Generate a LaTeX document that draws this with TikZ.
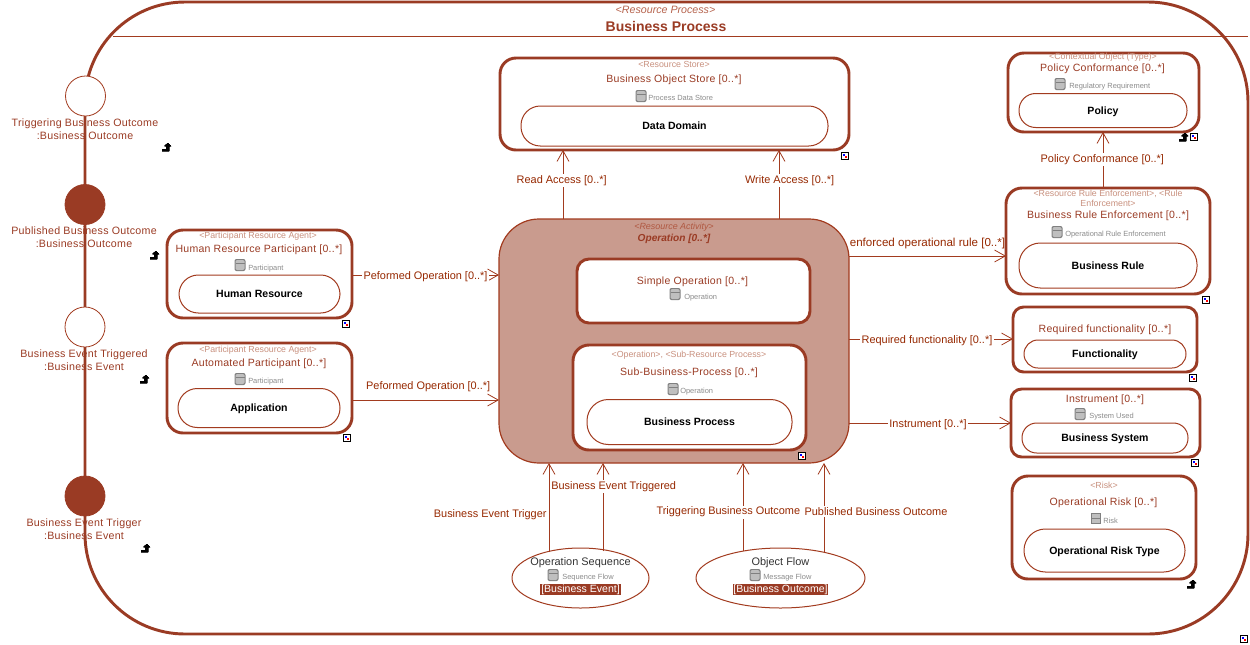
\documentclass[tikz,border=0pt]{standalone}
\usepackage{fontspec}
\setmainfont{Liberation Sans}
\newfontfamily\spaced[LetterSpace=2.5]{Liberation Sans}
\usetikzlibrary{arrows.meta,shapes.geometric,positioning,calc}
\definecolor{rust}{HTML}{9A3B24}
\definecolor{wire}{HTML}{A23B1F}
\definecolor{wtext}{HTML}{962800}
\definecolor{pale}{HTML}{C9917F}
\definecolor{opfill}{HTML}{C99B8E}
\definecolor{smallgrey}{HTML}{8C8C8C}
\tikzstyle{frame} = [rectangle, draw=rust, line width=2.2pt, inner sep=0pt, outer sep=0pt]
\tikzstyle{outerbox} = [frame, rounded corners=75pt, minimum width=872.25pt, minimum height=474pt]
\tikzstyle{element} = [frame, rounded corners=12pt, fill=white]
\tikzstyle{activity} = [rectangle, draw=wire, line width=0.9pt, inner sep=0pt, outer sep=0pt, rounded corners=30pt, fill=opfill]
\tikzstyle{inner} = [rectangle, draw=wire, line width=0.75pt, inner sep=0pt, outer sep=0pt, rounded corners=14.5pt, fill=white, font=\fontsize{7.9pt}{9pt}\selectfont\bfseries, text=black, text height=5.7pt, text depth=0pt]
\tikzstyle{port} = [circle, draw=wire, line width=0.6pt, inner sep=0pt, outer sep=0pt, minimum size=30pt, fill=white]
\tikzstyle{portfull} = [port, draw=rust, fill=rust]
\tikzstyle{portname} = [text=rust, align=center, font=\spaced\fontsize{8pt}{9.7pt}\selectfont, inner sep=0pt, yshift=-0.3pt]
\tikzstyle{stereo} = [text=pale, align=center, font=\fontsize{6.6pt}{8pt}\selectfont, inner sep=0pt, yshift=-0.6pt]
\tikzstyle{title} = [text=rust, font=\spaced\fontsize{7.9pt}{9pt}\selectfont, inner sep=0pt, yshift=-1.2pt]
\tikzstyle{kind} = [text=smallgrey, anchor=west, font=\fontsize{5.6pt}{7pt}\selectfont, inner sep=0pt, yshift=-0.8pt]
\tikzstyle{flowname} = [text=black!80, font=\fontsize{8.2pt}{9pt}\selectfont, inner sep=0pt, yshift=-1pt]
\tikzstyle{flowtype} = [text=white, fill=rust, font=\fontsize{7.9pt}{9pt}\selectfont, inner sep=0.6pt]
\tikzstyle{flow} = [ellipse, draw=wire, line width=0.75pt, inner sep=0pt, outer sep=0pt, fill=white]
\tikzstyle{arrow} = [draw=wire, line width=0.75pt, -{Straight Barb[length=8pt,width=9pt,line width=0.6pt]}]
\tikzstyle{wlabel} = [text=wtext, font=\fontsize{8.2pt}{9pt}\selectfont, inner sep=1pt, yshift=-1.2pt]
\tikzstyle{wcover} = [wlabel, fill=white]
\newcommand{\dbicon}[2]{
  \fill[black!50, rounded corners=1.5pt] (#1-5.5,#2-6) rectangle (#1+5.5,#2+6);
  \fill[black!25, rounded corners=1pt] (#1-4.5,#2-5) rectangle (#1+4.5,#2+5);
  \draw[black!50, line width=0.5pt] (#1-4.5,#2-1.5) -- (#1+4.5,#2-1.5);
}
\newcommand{\lnkicon}[2]{
  \fill[black] (#1-4,#2+2) -- (#1+0.5,#2+2) -- (#1+0.5,#2-1) -- (#1-1.5,#2-1) -- (#1+2,#2-4) -- (#1+5,#2-1) -- (#1+3,#2-1) -- (#1+3,#2+4) -- (#1-4,#2+4) -- cycle;
}
\newcommand{\cornericon}[2]{
  \draw[black, fill=white, line width=0.75pt] (#1-3.5,#2-3.5) rectangle (#1+3.5,#2+3.5);
  \fill[blue] (#1-2,#2-2) rectangle (#1,#2);
  \fill[red] (#1,#2) rectangle (#1+2,#2+2);
}
\begin{document}
\begin{tikzpicture}[x=0.75pt,y=-0.75pt]
\useasboundingbox (0,0) rectangle (1250,644);
% outer process
\node (process) [outerbox] at (666.5,318) {};
\node (processtype) [stereo, text=wire!80!white, font=\fontsize{8pt}{9pt}\selectfont\itshape] at (665.5,9) {<Resource Process>};
\node (processname) [title, font=\fontsize{10.5pt}{12pt}\selectfont\bfseries] at (666,24.5) {Business Process};
\coordinate (ruleleft) at (113,36.5);
\draw [wire, line width=0.75pt] (ruleleft) -- (ruleleft -| process.east);
% ports on the left edge
\node (port1) [port] at (85.5,96) {};
\node (port2) [portfull] at (85,204.5) {};
\node (port3) [port] at (85,327) {};
\node (port4) [portfull] at (85,496) {};
\node (port1name) [portname] at (85,128.5) {Triggering Business Outcome\\:Business Outcome};
\node (port2name) [portname] at (84,236.5) {Published Business Outcome\\:Business Outcome};
\node (port3name) [portname] at (84,359.5) {Business Event Triggered\\:Business Event};
\node (port4name) [portname] at (84,528.5) {Business Event Trigger\\:Business Event};
% left agents
\node (human) [element, minimum width=138.75pt, minimum height=66pt] at (259.5,274) {};
\node (humanres) [inner, minimum width=120.75pt, minimum height=28.5pt] at (259.5,294) {Human Resource};
\node (humantype) [stereo] at (258,235) {<Participant Resource Agent>};
\node (humanname) [title] at (259,248) {Human Resource Participant [0..*]};
\node (humankind) [kind] at (248,267) {Participant};
\node (auto) [element, minimum width=138.75pt, minimum height=67.5pt] at (259.5,388) {};
\node (autores) [inner, minimum width=121.5pt, minimum height=29.25pt] at (259,408) {Application};
\node (autotype) [stereo] at (258,349) {<Participant Resource Agent>};
\node (autoname) [title] at (259,362) {Automated Participant [0..*]};
\node (autokind) [kind] at (248,380) {Participant};
% data store
\node (store) [element, minimum width=261.75pt, minimum height=69pt] at (674.5,104) {};
\node (storeres) [inner, minimum width=230.25pt, minimum height=30pt] at (674.5,126) {Data Domain};
\node (storetype) [stereo] at (674,64) {<Resource Store>};
\node (storename) [title] at (674,78) {Business Object Store [0..*]};
\node (storekind) [kind] at (648,97) {Process Data Store};
% operation
\node (operation) [activity, minimum width=262.5pt, minimum height=183pt] at (674,341) {};
\node (optype) [stereo, text=wire!85!white, font=\fontsize{6.7pt}{8pt}\selectfont\itshape] at (674,226) {<Resource Activity>};
\node (opname) [title, font=\fontsize{7.6pt}{9pt}\selectfont\itshape\bfseries] at (674,237) {Operation [0..*]};
\node (simple) [element, rounded corners=9pt, minimum width=174.75pt, minimum height=48pt] at (693.5,291) {};
\node (simplename) [title] at (692.5,280) {Simple Operation [0..*]};
\node (simplekind) [kind] at (684,296) {Operation};
\node (sub) [element, minimum width=174.75pt, minimum height=78.75pt] at (689.5,397.5) {};
\node (subres) [inner, minimum width=153.75pt, minimum height=33.75pt, rounded corners=16pt] at (689.5,422) {Business Process};
\node (subtype) [stereo] at (689,354) {<Operation>, <Sub-Resource Process>};
\node (subname) [title] at (689,371) {Sub-Business-Process [0..*]};
\node (subkind) [kind] at (680,390) {Operation};
% right column
\node (policy) [element, minimum width=143.25pt, minimum height=59.25pt] at (1103.5,92.5) {};
\node (policyres) [inner, minimum width=126pt, minimum height=25.5pt, rounded corners=12.5pt] at (1103,110.5) {Policy};
\node (policytype) [stereo] at (1103,56) {<Contextual Object (Type)>};
\node (policyname) [title] at (1102.5,67) {Policy Conformance [0..*]};
\node (policykind) [kind] at (1069,85.5) {Regulatory Requirement};
\node (rule) [element, minimum width=153pt, minimum height=79.5pt] at (1108,241) {};
\node (ruleres) [inner, minimum width=133.5pt, minimum height=33.75pt, rounded corners=16pt] at (1108,265.5) {Business Rule};
\node (ruletype) [stereo] at (1108,197.5) {<Resource Rule Enforcement>, <Rule\\Enforcement>};
\node (rulename) [title] at (1108,214) {Business Rule Enforcement [0..*]};
\node (rulekind) [kind] at (1065,233) {Operational Rule Enforcement};
\node (func) [element, rounded corners=8pt, minimum width=138pt, minimum height=48.75pt] at (1105,339.5) {};
\node (funcres) [inner, minimum width=121.5pt, minimum height=21pt, rounded corners=10.5pt] at (1105,354) {Functionality};
\node (funcname) [title] at (1105,328) {Required functionality [0..*]};
\node (instr) [element, rounded corners=8pt, minimum width=141.75pt, minimum height=51pt] at (1105.5,423) {};
\node (instrres) [inner, minimum width=124.5pt, minimum height=22.5pt, rounded corners=11pt] at (1105,438) {Business System};
\node (instrname) [title] at (1105,398) {Instrument [0..*]};
\node (instrkind) [kind] at (1089,415) {System Used};
\node (risk) [element, minimum width=138pt, minimum height=77.25pt] at (1104,527.5) {};
\node (riskres) [inner, minimum width=120.75pt, minimum height=32.25pt, rounded corners=16pt] at (1104.5,550.5) {Operational Risk Type};
\node (risktype) [stereo] at (1104,485) {<Risk>};
\node (riskname) [title] at (1103.5,501) {Operational Risk [0..*]};
\node (riskkind) [kind] at (1103,520) {Risk};
% flows at the bottom
\node (seq) [flow, minimum width=102.75pt, minimum height=45pt] at (580.5,578) {};
\node (seqname) [flowname] at (580.5,561) {Operation Sequence};
\node (seqkind) [kind] at (562,576) {Sequence Flow};
\node (seqtype) [flowtype] at (580.5,589.5) {[Business Event]};
\node (obj) [flow, minimum width=126.75pt, minimum height=45pt] at (780.5,578) {};
\node (objname) [flowname] at (780.5,561) {Object Flow};
\node (objkind) [kind] at (763,576) {Message Flow};
\node (objtype) [flowtype] at (780.5,589.5) {[Business Outcome]};
% helper lanes for the connectors
\coordinate (lanehuman) at (0,275);
\coordinate (laneauto) at (0,400);
\coordinate (lanerule) at (0,256);
\coordinate (lanefunc) at (0,339);
\coordinate (laneinstr) at (0,423);
\coordinate (laneread) at (563,0);
\coordinate (lanewrite) at (779,0);
\coordinate (lanepolicy) at (1103,0);
\coordinate (lanetrigger) at (549,0);
\coordinate (lanetriggered) at (603,0);
\coordinate (laneoutcome) at (743,0);
\coordinate (lanepublished) at (824,0);
\coordinate (seqtop) at (0,552);
\coordinate (seqtopb) at (0,551);
\draw [arrow] (human.east |- lanehuman) -- node[wcover] {Peformed Operation [0..*]} (operation.west |- lanehuman);
\draw [arrow] (auto.east |- laneauto) -- node[wlabel, above=6pt, xshift=2pt] {Peformed Operation [0..*]} (operation.west |- laneauto);
\draw [arrow] (laneread |- operation.north) -- node[wcover, pos=0.58, xshift=-1pt] {Read Access [0..*]} (laneread |- store.south);
\draw [arrow] (lanewrite |- operation.north) -- node[wcover, pos=0.58, xshift=8pt] {Write Access [0..*]} (lanewrite |- store.south);
\draw [arrow] (operation.east |- lanerule) -- node[wlabel, above=5pt, font=\fontsize{8.7pt}{9pt}\selectfont] {enforced operational rule [0..*]} (rule.west |- lanerule);
\draw [arrow] (operation.east |- lanefunc) -- node[wcover, xshift=-3pt] {Required functionality [0..*]} (func.west |- lanefunc);
\draw [arrow] (operation.east |- laneinstr) -- node[wcover, xshift=-1.5pt] {Instrument [0..*]} (instr.west |- laneinstr);
\draw [arrow] (lanepolicy |- rule.north) -- node[wcover, pos=0.53, xshift=-0.5pt] {Policy Conformance [0..*]} (lanepolicy |- policy.south);
\draw [arrow] (lanetrigger |- seqtop) -- node[wlabel, pos=0.44, left=0.5pt] {Business Event Trigger} (lanetrigger |- operation.south);
\draw [arrow] (lanetriggered |- seqtopb) -- node[wcover, pos=0.75, xshift=8pt] {Business Event Triggered} (lanetriggered |- operation.south);
\draw [arrow] (laneoutcome |- seqtopb) -- node[wcover, pos=0.46, xshift=-11pt] {Triggering Business Outcome} (laneoutcome |- operation.south);
\draw [arrow] (lanepublished |- seqtop) -- node[wcover, pos=0.47, xshift=39pt] {Published Business Outcome} (lanepublished |- operation.south);
% small icons
\foreach \x/\y in {240/265,675/294,673/389,641/96,1060/84,1057/232,1080/414,553/575,755/575,240/379}
  \dbicon{\x}{\y}
\foreach \x/\y in {166/147,154/255,144/379,145/548,1183/137,1191/584}
  \lnkicon{\x}{\y}
\foreach \x/\y in {346/324,347/438,845/156,802/456,1194/137,1206/300,1193/378,1195/463,1244/639}
  \cornericon{\x}{\y}
% the risk icon is square
\fill[black!50] (1091,512.5) rectangle (1101,523.5);
\fill[black!25] (1092,513.5) rectangle (1100,522.5);
\draw[black!50, line width=0.5pt] (1092,518) -- (1100,518);
\end{tikzpicture}
\end{document}
